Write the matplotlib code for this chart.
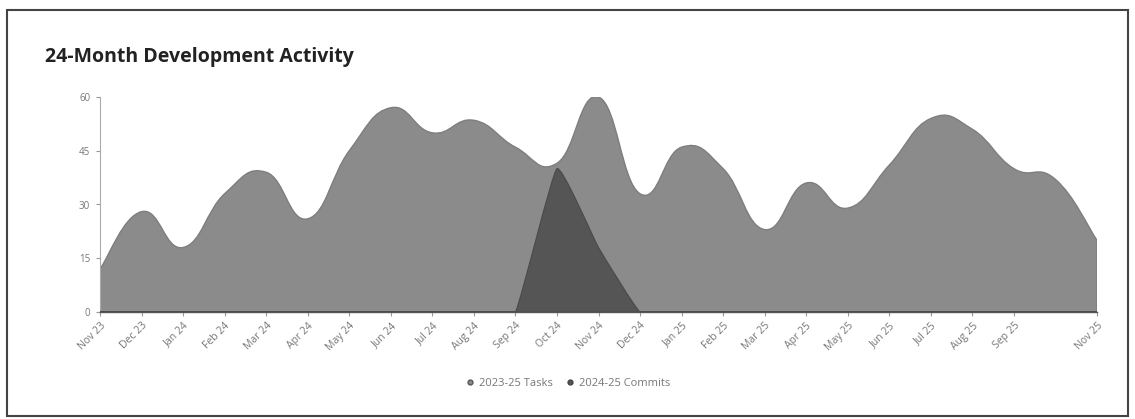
import numpy as np
import matplotlib
matplotlib.use("Agg")
import matplotlib.pyplot as plt
from matplotlib.path import Path
from matplotlib.patches import PathPatch, Rectangle
from matplotlib.lines import Line2D

plt.rcParams['font.family'] = ['Open Sans', 'DejaVu Sans']

months = ['Nov 23', 'Dec 23', 'Jan 24', 'Feb 24', 'Mar 24', 'Apr 24', 'May 24',
          'Jun 24', 'Jul 24', 'Aug 24', 'Sep 24', 'Oct 24', 'Nov 24', 'Dec 24',
          'Jan 25', 'Feb 25', 'Mar 25', 'Apr 25', 'May 25', 'Jun 25', 'Jul 25',
          'Aug 25', 'Sep 25', 'Oct 25', 'Nov 25']
tasks = [12, 28, 18, 33, 39, 26, 45, 57, 50, 53.5, 46, 41.5, 60, 33,
         46, 40, 23, 36, 29, 41, 54, 51, 40, 37, 20]
commits = [0, 0, 0, 0, 0, 0, 0, 0, 0, 0, 0, 40, 18, 0,
           0, 0, 0, 0, 0, 0, 0, 0, 0, 0, 0]
hidden_labels = ['Oct 25']
y_ticks = [0, 15, 30, 45, 60]

series_names = ['2023-25 Tasks', '2024-25 Commits']
task_color = '#8b8b8b'
commit_color = '#555555'


def smooth_area(x, y, tension=0.4):
    # bezier area path with control points like chart.js spline tension
    x = np.asarray(x, float)
    y = np.asarray(y, float)
    n = len(x)
    cin, cout = [], []
    for i in range(n):
        p = max(i - 1, 0)
        q = min(i + 1, n - 1)
        dx = (x[q] - x[p]) * tension / 2
        dy = (y[q] - y[p]) * tension / 2
        cin.append((x[i] - dx, max(y[i] - dy, 0)))
        cout.append((x[i] + dx, max(y[i] + dy, 0)))
    verts = [(x[0], y[0])]
    codes = [Path.MOVETO]
    for i in range(n - 1):
        verts += [cout[i], cin[i + 1], (x[i + 1], y[i + 1])]
        codes += [Path.CURVE4] * 3
    verts += [(x[-1], 0), (x[0], 0), (x[0], y[0])]
    codes += [Path.LINETO, Path.LINETO, Path.CLOSEPOLY]
    return Path(verts, codes)


fig = plt.figure(figsize=(11.35, 4.19), dpi=100)
ax = fig.add_axes([100 / 1135, 107 / 419, 997 / 1135, 215 / 419])

xs = np.arange(len(months))
ax.add_patch(PathPatch(smooth_area(xs, tasks, 0.45), facecolor=task_color,
                       edgecolor='#7e7e7e', lw=1, zorder=2))
ax.add_patch(PathPatch(smooth_area(xs, commits, 0.12), facecolor=commit_color,
                       edgecolor='#4a4a4a', lw=0.8, zorder=3))

ax.set_xlim(0, len(months) - 1)
ax.set_ylim(0, 60)
ax.set_yticks(y_ticks)
ax.set_yticklabels([str(v) for v in y_ticks], fontsize=7, color='#777777')
shown = [i for i, m in enumerate(months) if m not in hidden_labels]
ax.set_xticks(shown)
ax.set_xticklabels([months[i] for i in shown], rotation=45, ha='right',
                   rotation_mode='anchor', fontsize=7.5, color='#777777')
ax.tick_params(axis='x', length=3, color='#999999', pad=3)
ax.tick_params(axis='y', length=3, color='#999999', pad=4)

for side in ['top', 'right']:
    ax.spines[side].set_visible(False)
ax.spines['left'].set_color('#aaaaaa')
ax.spines['left'].set_linestyle((0, (2, 1)))
ax.spines['left'].set_linewidth(0.8)
ax.spines['bottom'].set_color('#555555')
ax.spines['bottom'].set_linewidth(1)
ax.spines['bottom'].set_zorder(4)

fig.text(45 / 1135, 1 - 57 / 419, '24-Month Development Activity',
         fontsize=14, fontweight='bold', color='#222222', va='center')

handles = [Line2D([], [], marker='o', ls='', ms=3.5, color=task_color, mec='#555555'),
           Line2D([], [], marker='o', ls='', ms=3.5, color=commit_color, mec='#444444')]
fig.legend(handles, series_names, loc='center', bbox_to_anchor=(0.5, 1 - 383 / 419),
           ncol=2, frameon=False, fontsize=8, labelcolor='#777777',
           handletextpad=0.3, columnspacing=1.0, handlelength=1.0)

fig.patches.append(Rectangle((7 / 1135, 3 / 419), 1121 / 1135, 406 / 419,
                             transform=fig.transFigure, fill=False,
                             edgecolor='#444444', lw=1.5))

fig.savefig('out.png', dpi=100)
